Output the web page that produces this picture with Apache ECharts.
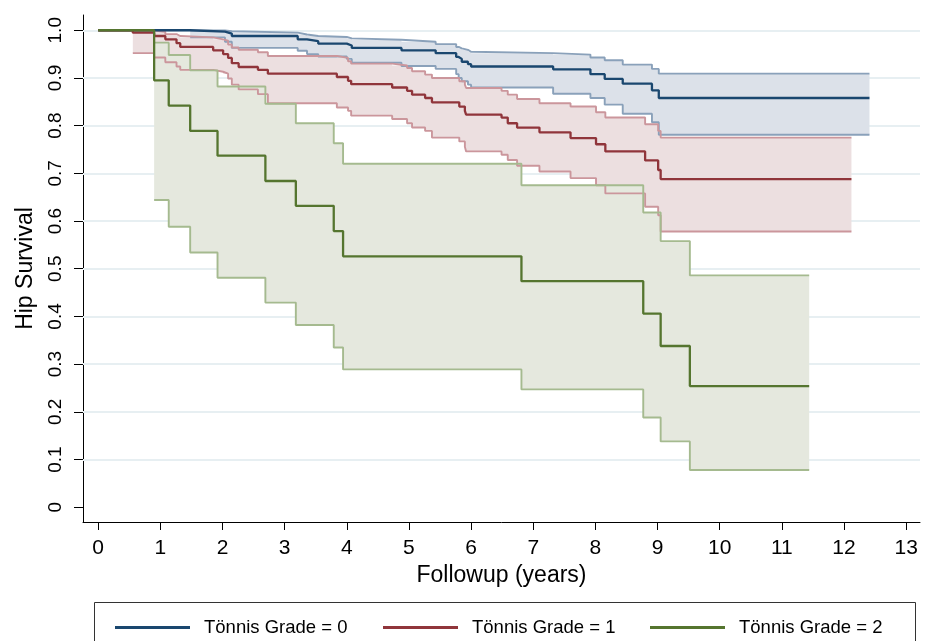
<!DOCTYPE html>
<html><head><meta charset="utf-8">
<script src="https://cdn.jsdelivr.net/npm/echarts@6/dist/echarts.min.js"></script>
<style>html,body{margin:0;padding:0;background:#fff}#c{width:928px;height:641px}</style>
</head><body><div id="c"></div>
<script>
// ---- axis ticks ----
const xTicks = [0,1,2,3,4,5,6,7,8,9,10,11,12,13];
const yTicks = [0,0.1,0.2,0.3,0.4,0.5,0.6,0.7,0.8,0.9,1.0];
const yTickLabels = ['0','0.1','0.2','0.3','0.4','0.5','0.6','0.7','0.8','0.9','1.0'];
const gridLevels = [0.1,0.2,0.3,0.4,0.5,0.6,0.7,0.8,0.9,1.0];
const seriesNames = ['Tönnis Grade = 0','Tönnis Grade = 1','Tönnis Grade = 2'];

// ---- Tönnis Grade = 0 ----
const g0Times = [0,1.48,2.04,2.15,3.21,3.36,3.54,4.00,4.08,4.88,5.43,5.76,5.80,5.85,5.95,6.00,7.32,7.92,8.15,8.44,8.91,9.02];
const g0Surv  = [1.0,0.997,0.993,0.988,0.981,0.977,0.972,0.968,0.963,0.958,0.952,0.944,0.940,0.934,0.929,0.924,0.918,0.908,0.898,0.888,0.874,0.858];
const g0Upper = [0.9995,0.998,0.995,0.991,0.988,0.986,0.983,0.980,0.976,0.971,0.965,0.962,0.959,0.955,0.952,0.949,0.943,0.937,0.928,0.919,0.909];
const g0Lower = [0.985,0.976,0.963,0.957,0.950,0.945,0.940,0.932,0.925,0.919,0.908,0.900,0.893,0.886,0.880,0.867,0.858,0.844,0.825,0.807,0.781];
const g0End = 12.41;

// ---- Tönnis Grade = 1 ----
const g1Times = [0,0.557,0.90,1.08,1.26,1.32,1.85,2.01,2.09,2.15,2.26,2.57,2.73,3.84,4.02,4.07,4.73,4.97,5.05,5.26,5.37,5.81,5.90,5.92,6.49,6.59,6.74,7.10,7.60,8.01,8.16,8.80,9.01,9.05];
const g1Surv  = [1.0,0.995,0.988,0.981,0.973,0.965,0.958,0.950,0.942,0.931,0.923,0.917,0.909,0.902,0.894,0.887,0.880,0.873,0.865,0.858,0.849,0.840,0.831,0.823,0.817,0.805,0.796,0.786,0.774,0.761,0.746,0.727,0.707,0.688];
const g1Upper = [0.9995,0.997,0.992,0.988,0.985,0.981,0.978,0.970,0.964,0.959,0.954,0.946,0.942,0.935,0.930,0.926,0.921,0.914,0.907,0.900,0.893,0.886,0.879,0.873,0.865,0.856,0.847,0.840,0.828,0.817,0.803,0.789,0.775];
const g1Lower = [0.952,0.943,0.933,0.924,0.917,0.913,0.909,0.899,0.886,0.876,0.866,0.847,0.838,0.831,0.821,0.814,0.805,0.796,0.789,0.775,0.767,0.756,0.746,0.739,0.728,0.716,0.704,0.690,0.675,0.658,0.630,0.612,0.578];
const g1End = 12.12;

// ---- Tönnis Grade = 2 ----
const g2Times = [0,0.90,1.135,1.48,1.92,2.69,3.18,3.79,3.94,6.81,8.77,9.05,9.52];
const g2Surv  = [1.0,0.895,0.842,0.789,0.737,0.684,0.632,0.579,0.526,0.474,0.406,0.338,0.254];
const g2Upper = [0.974,0.948,0.916,0.882,0.846,0.805,0.763,0.720,0.675,0.618,0.558,0.486];
const g2Lower = [0.644,0.588,0.534,0.481,0.429,0.382,0.335,0.289,0.247,0.188,0.138,0.078];
const g2End = 11.44;

const C = {
  main: ['#1a476f','#90353b','#55752f'],
  ci:   ['#8aa1ba','#cb969c','#a5ba8f'],
  fill: ['#dce1e9','#ecdfe0','#e5e8de']
};

function stepData(times, vals, end) {
  const d = times.map((t, i) => [t, vals[i]]);
  d.push([end, vals[vals.length - 1]]);
  return d;
}
function bandSeries(times, up, lo, end, fill) {
  const n = up.length;
  return {
    type: 'custom', silent: true, z: 2, data: [[times[0], up[0]]],
    renderItem: function (params, api) {
      const pts = [];
      for (let i = 0; i < n; i++) {
        const next = i + 1 < n ? times[i + 1] : end;
        pts.push(api.coord([times[i], up[i]]));
        pts.push(api.coord([next, up[i]]));
      }
      for (let i = n - 1; i >= 0; i--) {
        const next = i + 1 < n ? times[i + 1] : end;
        pts.push(api.coord([next, lo[i]]));
        pts.push(api.coord([times[i], lo[i]]));
      }
      return { type: 'polygon', shape: { points: pts }, style: { fill: fill, stroke: null } };
    }
  };
}
function ciLine(times, vals, end, color) {
  return { type: 'line', step: 'end', symbol: 'none', silent: true, z: 3,
    data: stepData(times, vals, end), lineStyle: { color: color, width: 1.9 } };
}
function mainLine(name, times, vals, end, color) {
  return { name: name, type: 'line', step: 'end', symbol: 'none', silent: true, z: 4,
    color: color, data: stepData(times, vals, end), lineStyle: { color: color, width: 2.3 } };
}

const groups = [
  [g0Times, g0Surv, g0Upper, g0Lower, g0End],
  [g1Times, g1Surv, g1Upper, g1Lower, g1End],
  [g2Times, g2Surv, g2Upper, g2Lower, g2End]
];
const series = [];
groups.forEach((g, k) => {
  const ciT = g[0].slice(1);
  series.push(bandSeries(ciT, g[2], g[3], g[4], C.fill[k]));
  series.push(ciLine(ciT, g[2], g[4], C.ci[k]));
  series.push(ciLine(ciT, g[3], g[4], C.ci[k]));
});
groups.forEach((g, k) => {
  series.push(mainLine(seriesNames[k], g[0], g[1], g[4], C.main[k]));
});
// grid lines
series[0].markLine = {
  silent: true, symbol: 'none', label: { show: false }, z: 1,
  lineStyle: { color: '#e7eff2', width: 2.2, type: 'solid' },
  data: gridLevels.map(v => ({ yAxis: v }))
};

const SANS = '"Liberation Sans", Arial, sans-serif';
const legendLefts = [115, 383, 650];

const option = {
  animation: false,
  backgroundColor: '#fff',
  grid: { left: 83, right: 8, top: 15, bottom: 119, containLabel: false },
  xAxis: {
    type: 'value', min: -0.2446, max: 13.223,
    name: 'Followup (years)', nameLocation: 'middle', nameGap: 42,
    nameTextStyle: { fontFamily: SANS, fontSize: 23, color: '#000' },
    axisLine: { show: true, onZero: false, lineStyle: { color: '#000', width: 1 } },
    axisTick: { show: true, length: 8, customValues: xTicks, lineStyle: { color: '#000' } },
    axisLabel: { customValues: xTicks, margin: 16, color: '#000', fontFamily: SANS, fontSize: 21 },
    splitLine: { show: false }
  },
  yAxis: {
    type: 'value', min: -0.031, max: 1.032,
    name: 'Hip Survival', nameLocation: 'middle', nameGap: 46, nameRotate: 90,
    nameTextStyle: { fontFamily: SANS, fontSize: 23, color: '#000' },
    axisLine: { show: true, onZero: false, lineStyle: { color: '#000', width: 1 } },
    axisTick: { show: true, length: 9, customValues: yTicks, lineStyle: { color: '#000' } },
    axisLabel: { customValues: yTicks, rotate: 90, margin: 18, color: '#000', fontFamily: SANS, fontSize: 19,
      formatter: v => { const i = yTicks.findIndex(t => Math.abs(t - v) < 1e-6); return i >= 0 ? yTickLabels[i] : ''; } },
    splitLine: { show: false }
  },
  legend: seriesNames.map((nm, k) => ({
    data: [nm], left: legendLefts[k], top: 618, padding: 0, icon: 'rect', itemWidth: 75, itemHeight: 3,
    selectedMode: false,
    textStyle: { fontFamily: SANS, fontSize: 18.5, color: '#000', padding: [0, 0, 0, 9] }
  })),
  graphic: [{
    type: 'rect', left: 92, top: 600, silent: true,
    shape: { width: 821, height: 80 },
    style: { fill: 'none', stroke: '#333', lineWidth: 1 }
  }],
  series: series
};
const chart = echarts.init(document.getElementById('c'), null, { renderer: 'canvas' });
chart.setOption(option);
</script>
</body></html>
